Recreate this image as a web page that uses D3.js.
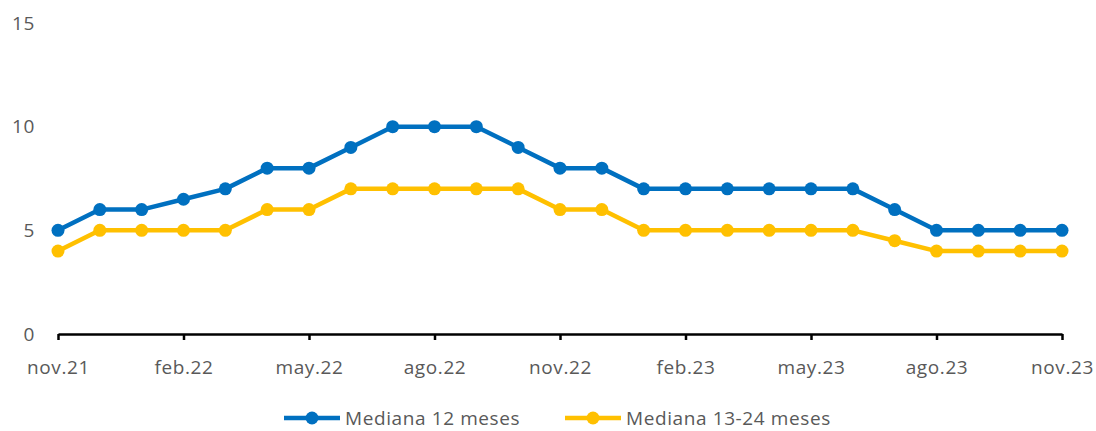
<!DOCTYPE html>
<html>
<head>
<meta charset="UTF-8" />
<script src="https://cdn.jsdelivr.net/npm/d3@7"></script>
<style>
    body { margin: 0; background: #fff; font-family: 'Open Sans', sans-serif; }
    text { fill: #595959; letter-spacing: 0.6px; }
</style>
</head>
<body>
<div id="chart"></div>
<script>
    var months = ["nov.21","dic.21","ene.22","feb.22","mar.22","abr.22","may.22","jun.22","jul.22","ago.22","sep.22","oct.22",
                  "nov.22","dic.22","ene.23","feb.23","mar.23","abr.23","may.23","jun.23","jul.23","ago.23","sep.23","oct.23","nov.23"];
    var mediana12 = [5,6,6,6.5,7,8,8,9,10,10,10,9,8,8,7,7,7,7,7,7,6,5,5,5,5];
    var mediana1324 = [4,5,5,5,5,6,6,7,7,7,7,7,6,6,5,5,5,5,5,5,4.5,4,4,4,4];
    var yTicks = [0,5,10,15];
    var seriesNames = ["Mediana 12 meses","Mediana 13-24 meses"];
    var colors = ["#0070c0","#ffc000"];

    var w = 1096, h = 431;
    var svg = d3.select("#chart").append("svg").attr("width", w).attr("height", h);

    var x = d3.scalePoint().domain(months).range([58, 1062]);
    var y = d3.scaleLinear().domain([0, 15]).range([334, 23]);

    // y labels, no axis line
    svg.selectAll(".ylab").data(yTicks).enter().append("text")
        .attr("x", 35).attr("y", function(d){ return y(d); })
        .attr("dy", "0.35em").attr("text-anchor", "end")
        .style("font-size", "19px").text(function(d){ return d; });

    // x axis
    var xAxis = d3.axisBottom(x)
        .tickValues(months.filter(function(d, i){ return i % 3 === 0; }))
        .tickSize(6).tickSizeOuter(0).tickPadding(21);
    var gx = svg.append("g").attr("transform", "translate(0," + y(0) + ")").call(xAxis);
    gx.select(".domain").attr("stroke", "#000").attr("stroke-width", 2.5);
    gx.selectAll(".tick line").attr("stroke", "#000").attr("stroke-width", 2.5);
    gx.selectAll(".tick text").style("font-size", "19px").style("font-family", "'Open Sans', sans-serif").attr("fill", "#595959");

    var line = d3.line()
        .x(function(d, i){ return x(months[i]); })
        .y(function(d){ return y(d); });

    [mediana12, mediana1324].forEach(function(s, k){
        svg.append("path").datum(s).attr("d", line)
            .attr("fill", "none").attr("stroke", colors[k]).attr("stroke-width", 4.5)
            .attr("stroke-linejoin", "round");
        svg.selectAll(".pt" + k).data(s).enter().append("circle")
            .attr("cx", function(d, i){ return x(months[i]); })
            .attr("cy", function(d){ return y(d); })
            .attr("r", 6.5).attr("fill", colors[k]);
    });

    // legend
    var legX = [284, 565];
    seriesNames.forEach(function(n, k){
        var g = svg.append("g").attr("transform", "translate(" + legX[k] + ",418)");
        g.append("line").attr("x1", 0).attr("x2", 56).attr("stroke", colors[k]).attr("stroke-width", 4.5);
        g.append("circle").attr("cx", 28).attr("r", 6.5).attr("fill", colors[k]);
        g.append("text").attr("x", 61).attr("dy", "0.35em").style("font-size", "19px").text(n);
    });
</script>
</body>
</html>
